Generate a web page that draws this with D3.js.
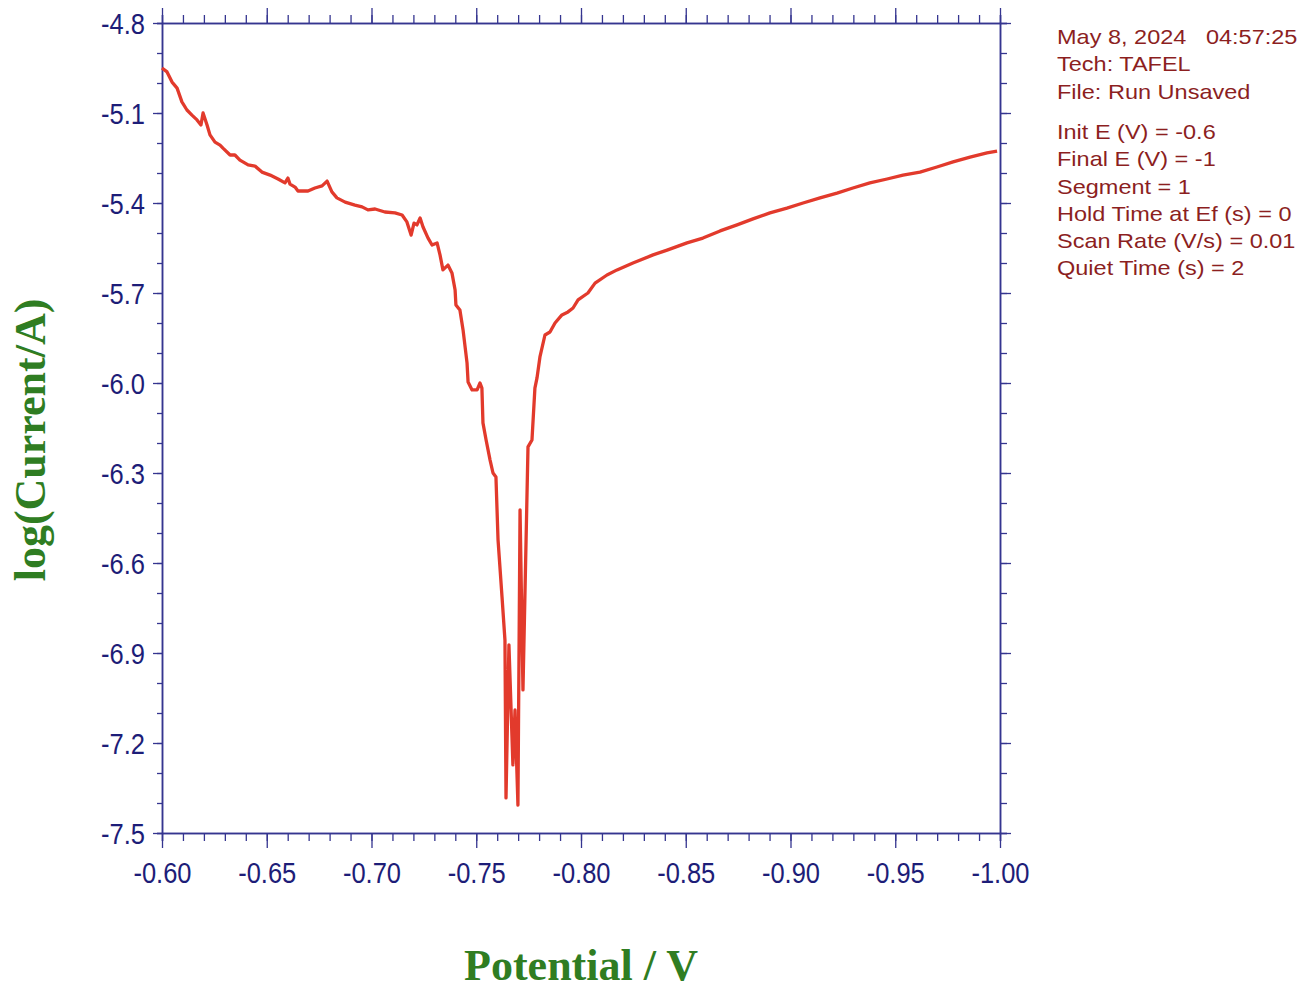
<!DOCTYPE html>
<html>
<head>
<meta charset="utf-8">
<script src="https://cdn.jsdelivr.net/npm/d3@7"></script>
<style>
  body { margin: 0; background: #fff; }
  svg { display: block; }
</style>
</head>
<body>
<svg id="chart" width="1315" height="990"></svg>
<script>
// Tafel scan
var potential = [
  -0.600, -0.6024, -0.6048, -0.6072, -0.6095, -0.6119, -0.6143, -0.6167, -0.6186, -0.6196,
  -0.6215, -0.6229, -0.6253, -0.6277, -0.6291, -0.6325, -0.6348, -0.6372, -0.6411, -0.6444,
  -0.6477, -0.6516, -0.6554, -0.6587, -0.6601, -0.6611, -0.6635, -0.6649, -0.6697, -0.6730,
  -0.6764, -0.6788, -0.6811, -0.6835, -0.6874, -0.6921, -0.6955, -0.6983, -0.7017, -0.7064,
  -0.7112, -0.7146, -0.7169, -0.7189, -0.7203, -0.7217, -0.7232, -0.7246, -0.7270, -0.7289,
  -0.7313, -0.7327, -0.7341, -0.7365, -0.7384, -0.7399, -0.7403, -0.7422, -0.7437, -0.7456,
  -0.7461, -0.7480, -0.7504, -0.7518, -0.7527, -0.7532, -0.7547, -0.7566, -0.7580, -0.7594,
  -0.7604, -0.7623, -0.7637, -0.7642, -0.7656, -0.7675, -0.7685, -0.7699, -0.7709, -0.7723,
  -0.7747, -0.7766, -0.7780, -0.7790, -0.7804, -0.7828, -0.7852, -0.7876, -0.7909, -0.7938,
  -0.7962, -0.7986, -0.8033, -0.8067, -0.8124, -0.8172, -0.8248, -0.8344, -0.8411, -0.8506,
  -0.8582, -0.8664, -0.8745, -0.8821, -0.8902, -0.8983, -0.9060, -0.9141, -0.9222, -0.9298,
  -0.9379, -0.9461, -0.9537, -0.9618, -0.9699, -0.9776, -0.9857, -0.9938, -0.9986
];
var logCurrent = [
  -4.950, -4.963, -4.997, -5.017, -5.063, -5.090, -5.107, -5.123, -5.140, -5.100,
  -5.140, -5.173, -5.197, -5.207, -5.217, -5.240, -5.240, -5.257, -5.273, -5.277,
  -5.297, -5.307, -5.320, -5.333, -5.317, -5.337, -5.347, -5.360, -5.360, -5.350,
  -5.343, -5.327, -5.363, -5.383, -5.397, -5.407, -5.413, -5.423, -5.420, -5.430,
  -5.433, -5.440, -5.463, -5.507, -5.467, -5.473, -5.450, -5.480, -5.517, -5.540,
  -5.533, -5.573, -5.623, -5.607, -5.633, -5.690, -5.740, -5.757, -5.823, -5.933,
  -5.997, -6.023, -6.023, -6.000, -6.017, -6.133, -6.190, -6.257, -6.300, -6.313,
  -6.523, -6.713, -6.857, -7.383, -6.873, -7.273, -7.090, -7.407, -6.423, -7.023,
  -6.213, -6.190, -6.017, -5.983, -5.913, -5.840, -5.830, -5.800, -5.773, -5.763,
  -5.750, -5.723, -5.700, -5.667, -5.640, -5.623, -5.600, -5.573, -5.557, -5.533,
  -5.517, -5.493, -5.473, -5.453, -5.433, -5.417, -5.400, -5.383, -5.367, -5.350,
  -5.333, -5.320, -5.307, -5.297, -5.280, -5.263, -5.247, -5.233, -5.227
];

var xTicks = [-0.60, -0.65, -0.70, -0.75, -0.80, -0.85, -0.90, -0.95, -1.00];
var yTicks = [-4.8, -5.1, -5.4, -5.7, -6.0, -6.3, -6.6, -6.9, -7.2, -7.5];

var headerLines = ['May 8, 2024   04:57:25', 'Tech: TAFEL', 'File: Run Unsaved'];
var paramLines = [
  'Init E (V) = -0.6',
  'Final E (V) = -1',
  'Segment = 1',
  'Hold Time at Ef (s) = 0',
  'Scan Rate (V/s) = 0.01',
  'Quiet Time (s) = 2'
];

var axisColor = '#353590';
var labelColor = '#1d1d78';
var lineColor = '#e23a2c';
var titleColor = '#2f7d22';
var infoColor = '#8c1f1f';

var svg = d3.select('#chart');
var plotLeft = 162, plotRight = 1000, plotTop = 23, plotBottom = 833;

var x = d3.scaleLinear().domain([-0.6, -1.0]).range([plotLeft, plotRight]);
var y = d3.scaleLinear().domain([-4.8, -7.5]).range([plotTop, plotBottom]);

// minor tick positions (every 0.01 V and every 0.1 decade)
var xMinor = d3.range(0, 41).map(function (i) { return -0.6 - i * 0.01; });
var yMinor = d3.range(0, 28).map(function (i) { return -4.8 - i * 0.1; });

var styleAxis = function (g) {
  g.selectAll('line').attr('stroke', axisColor).attr('stroke-width', 1.3);
  g.selectAll('path').attr('stroke', axisColor).attr('stroke-width', 1.5);
};

// minor ticks on all four sides
svg.append('g').attr('transform', 'translate(0,' + plotBottom + ')')
  .call(d3.axisBottom(x).tickValues(xMinor).tickSize(8).tickFormat(''))
  .call(styleAxis);
svg.append('g').attr('transform', 'translate(0,' + plotTop + ')')
  .call(d3.axisTop(x).tickValues(xMinor).tickSize(8).tickFormat(''))
  .call(styleAxis);
svg.append('g').attr('transform', 'translate(' + plotLeft + ',0)')
  .call(d3.axisLeft(y).tickValues(yMinor).tickSize(5).tickFormat(''))
  .call(styleAxis);
svg.append('g').attr('transform', 'translate(' + plotRight + ',0)')
  .call(d3.axisRight(y).tickValues(yMinor).tickSize(7).tickFormat(''))
  .call(styleAxis);

// major ticks
var xAxis = svg.append('g').attr('transform', 'translate(0,' + plotBottom + ')')
  .call(d3.axisBottom(x).tickValues(xTicks).tickSize(15).tickSizeOuter(0)
    .tickFormat(function (d) { return d.toFixed(2); }))
  .call(styleAxis);
svg.append('g').attr('transform', 'translate(0,' + plotTop + ')')
  .call(d3.axisTop(x).tickValues(xTicks).tickSize(15).tickSizeOuter(0).tickFormat(''))
  .call(styleAxis);
var yAxis = svg.append('g').attr('transform', 'translate(' + plotLeft + ',0)')
  .call(d3.axisLeft(y).tickValues(yTicks).tickSize(9).tickSizeOuter(0)
    .tickFormat(function (d) { return d.toFixed(1); }))
  .call(styleAxis);
svg.append('g').attr('transform', 'translate(' + plotRight + ',0)')
  .call(d3.axisRight(y).tickValues(yTicks).tickSize(11).tickSizeOuter(0).tickFormat(''))
  .call(styleAxis);

xAxis.selectAll('text')
  .attr('y', 50).attr('dy', 0)
  .attr('transform', 'scale(0.85,1)')
  .style('font-family', '"Liberation Sans", Arial, sans-serif')
  .style('font-size', '30px')
  .attr('fill', labelColor);

yAxis.selectAll('text')
  .attr('x', -20).attr('dy', '0.36em')
  .attr('transform', 'scale(0.85,1)')
  .style('font-family', '"Liberation Sans", Arial, sans-serif')
  .style('font-size', '30px')
  .attr('fill', labelColor);

// the curve
var line = d3.line()
  .x(function (d) { return x(d[0]); })
  .y(function (d) { return y(d[1]); });

svg.append('path')
  .datum(d3.zip(potential, logCurrent))
  .attr('d', line)
  .attr('fill', 'none')
  .attr('stroke', lineColor)
  .attr('stroke-width', 3.3)
  .attr('stroke-linejoin', 'round');

// axis titles
svg.append('text')
  .attr('x', 581)
  .attr('y', 980)
  .attr('text-anchor', 'middle')
  .style('font-family', '"Liberation Serif", "Times New Roman", serif')
  .style('font-weight', 'bold')
  .style('font-size', '44px')
  .attr('fill', titleColor)
  .text('Potential / V');

svg.append('text')
  .attr('transform', 'translate(45,440) rotate(-90)')
  .attr('text-anchor', 'middle')
  .style('font-family', '"Liberation Serif", "Times New Roman", serif')
  .style('font-weight', 'bold')
  .style('font-size', '44px')
  .attr('fill', titleColor)
  .text('log(Current/A)');

// run info
var info = svg.append('g')
  .attr('transform', 'translate(1057,0) scale(1.12,1)')
  .style('font-family', '"Liberation Sans", Arial, sans-serif')
  .style('font-size', '21px')
  .attr('fill', infoColor);

info.selectAll('text.head')
  .data(headerLines)
  .enter().append('text')
  .attr('class', 'head')
  .attr('x', 0)
  .attr('y', function (d, i) { return 44 + i * 27.3; })
  .style('white-space', 'pre')
  .text(function (d) { return d; });

info.selectAll('text.param')
  .data(paramLines)
  .enter().append('text')
  .attr('class', 'param')
  .attr('x', 0)
  .attr('y', function (d, i) { return 139 + i * 27.3; })
  .text(function (d) { return d; });
</script>
</body>
</html>
